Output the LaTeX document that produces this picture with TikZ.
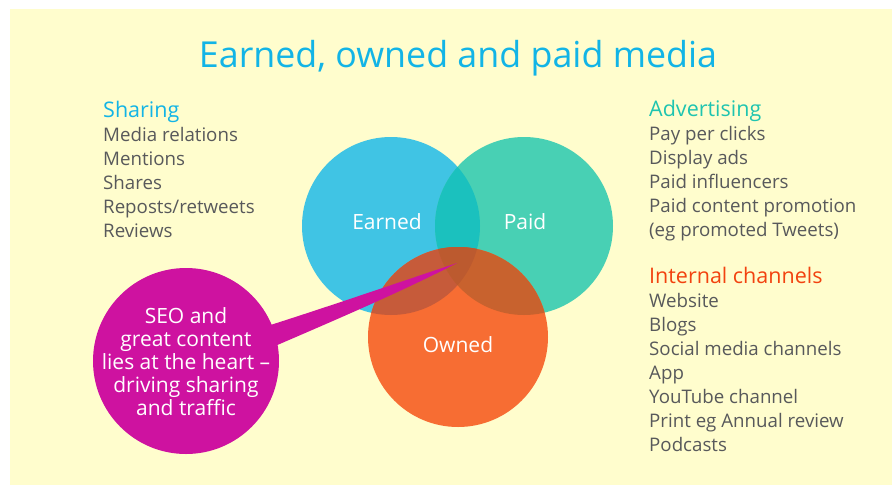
\documentclass[tikz,border=0pt]{standalone}
\usepackage{fontspec}
\setmainfont{Open Sans}
\begin{document}
\definecolor{bgyellow}{HTML}{FFFDCD}
\definecolor{titlecyan}{HTML}{12B4E6}
\definecolor{bodygray}{HTML}{58595B}
\definecolor{earnedc}{HTML}{40C4E4}
\definecolor{paidc}{HTML}{48D0B4}
\definecolor{ownedc}{HTML}{F76D33}
\definecolor{epc}{HTML}{1BC1BE}
\definecolor{eoc}{HTML}{C65B3A}
\definecolor{poc}{HTML}{C8622E}
\definecolor{epoc}{HTML}{BC5A2F}
\definecolor{seoc}{HTML}{CE12A0}
\definecolor{advc}{HTML}{1EC4B0}
\definecolor{intc}{HTML}{F2420F}
\begin{tikzpicture}[x=1pt,y=-1pt,
  venn/.style={circle,minimum size=178pt,inner sep=0pt},
  vennlabel/.style={text=white,font=\fontsize{21}{24}\selectfont},
  listhead/.style={anchor=base west,inner sep=0pt,font=\fontsize{21.5}{24}\selectfont},
  listbody/.style={anchor=base west,inner sep=0pt,text=bodygray,font=\fontsize{18.7}{24}\selectfont},
  callout/.style={circle,fill=seoc,minimum size=186pt,inner sep=0pt}]
\useasboundingbox (0,0) rectangle (892,485);
\fill[bgyellow] (10,9) rectangle (892,485);

% title
\node[text=titlecyan,font=\fontsize{35.8}{40}\selectfont,anchor=base] (title) at (458,67) {Earned, owned and paid media};

% the three media circles
\node[venn,fill=earnedc] (earned) at (391,226) {};
\node[venn,fill=paidc] (paid) at (524,226) {};
\node[venn,fill=ownedc,minimum size=180pt] (owned) at (458,337) {};

% overlapping regions
\begin{scope}
  \clip (earned.center) circle[radius=89pt];
  \fill[epc] (paid.center) circle[radius=89pt];
  \fill[eoc] (owned.center) circle[radius=90pt];
\end{scope}
\begin{scope}
  \clip (paid.center) circle[radius=89pt];
  \fill[poc] (owned.center) circle[radius=90pt];
  \clip (earned.center) circle[radius=89pt];
  \fill[epoc] (owned.center) circle[radius=90pt];
\end{scope}

% circle labels
\node[vennlabel] (earnedlbl) at (387,222) {Earned};
\node[vennlabel] (paidlbl) at (525,222) {Paid};
\node[vennlabel] (ownedlbl) at (458,345) {Owned};

% speech bubble and its tail
\coordinate (tip) at (457,263);
\node[callout] (seo) at (186,361) {};
\fill[seoc] (seo.23) .. controls (330,306) and (400,282) .. (tip)
  .. controls (405,290) and (340,318) .. (seo.10) -- (seo.center) -- cycle;
\foreach \txt [count=\i] in {SEO and,great content,lies at the heart –,driving sharing,and traffic}
  \node[text=white,anchor=base,inner sep=0pt,font=\fontsize{21}{23}\selectfont] (seo\i) at (186,{300+23*\i}) {\txt};

% left list
\node[listhead,text=titlecyan] (sharing) at (103,117) {Sharing};
\foreach \txt [count=\i] in {Media relations,Mentions,Shares,Reposts/retweets,Reviews}
  \node[listbody] (share\i) at (103,{117+24*\i}) {\txt};

% right lists
\node[listhead,text=advc] (adv) at (649,116) {Advertising};
\foreach \txt [count=\i] in {Pay per clicks,Display ads,Paid influencers,Paid content promotion,(eg promoted Tweets)}
  \node[listbody] (adv\i) at (649,{116+24*\i}) {\txt};

\node[listhead,text=intc] (internal) at (649,283) {Internal channels};
\foreach \txt [count=\i] in {Website,Blogs,Social media channels,App,YouTube channel,Print eg Annual review,Podcasts}
  \node[listbody] (int\i) at (649,{283+24.1*\i}) {\txt};
\end{tikzpicture}
\end{document}
